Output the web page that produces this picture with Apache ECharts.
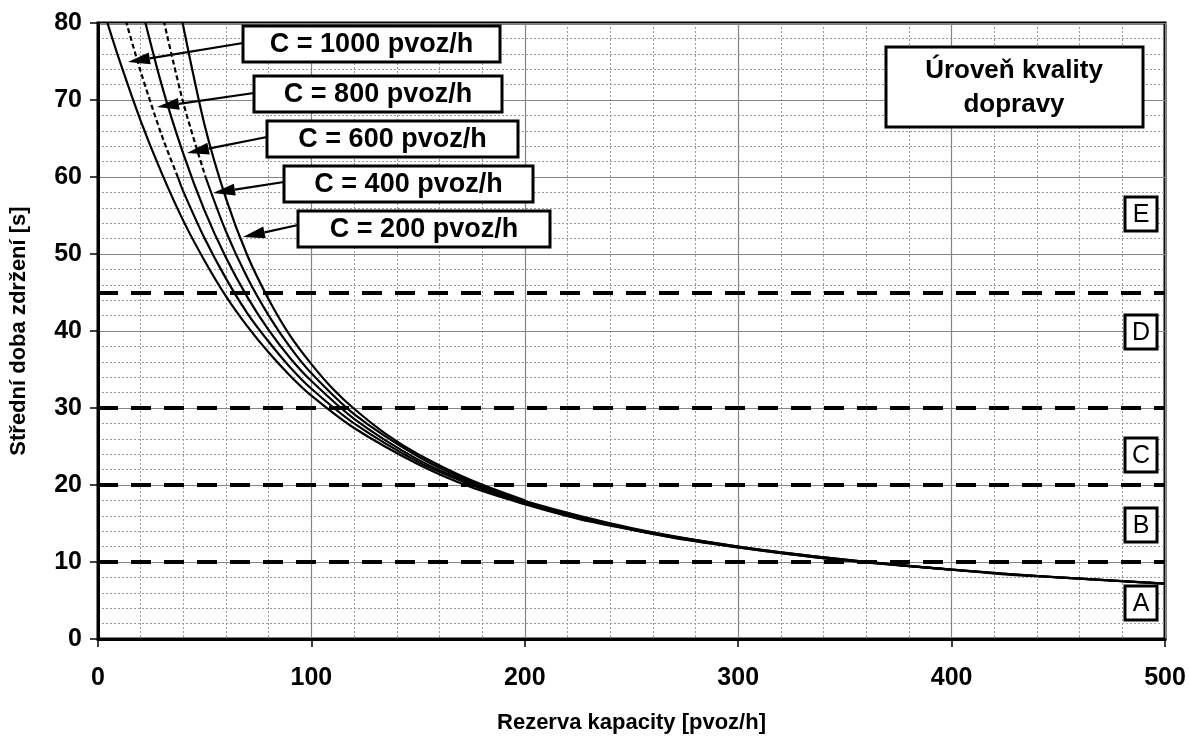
<!DOCTYPE html>
<html><head><meta charset="utf-8">
<script src="https://cdn.jsdelivr.net/npm/echarts@6/dist/echarts.min.js"></script>
<style>html,body{margin:0;padding:0;background:#fff}#c{width:1189px;height:738px}</style>
</head><body><div id="c"></div>
<script>
// ---- data ----
const xTicks = [0, 100, 200, 300, 400, 500];
const yTicks = [0, 10, 20, 30, 40, 50, 60, 70, 80];
const capLabels = ['C = 1000 pvoz/h', 'C = 800 pvoz/h', 'C = 600 pvoz/h', 'C = 400 pvoz/h', 'C = 200 pvoz/h'];
const c1000 = [[4,80.4],[10,75.2],[20,67.3],[30,60.4],[40,54.3],[50,49.1],[60,44.5],[70,40.6],[80,37.2],[90,34.2],[100,31.6],[120,27.4],[150,22.7],[175,19.7],[200,17.5],[225,15.6],[250,14.2],[275,12.9],[300,11.9],[325,11.0],[350,10.2],[375,9.6],[400,9.0],[425,8.4],[450,8.0],[475,7.6],[500,7.2]];
const c800 = [[12,81.3],[20,73.7],[30,65.3],[37.4,60],[40,58.1],[50,52.0],[60,46.8],[70,42.3],[80,38.6],[90,35.3],[100,32.5],[120,28.0],[150,23.0],[175,20.0],[200,17.6],[250,14.2],[300,11.9],[350,10.2],[400,9.0],[450,8.0],[500,7.2]];
const c600 = [[20,82.5],[30,71.8],[40,63.0],[50,55.6],[60,49.5],[70,44.4],[80,40.1],[90,36.5],[100,33.5],[120,28.6],[150,23.3],[175,20.2],[200,17.8],[250,14.3],[300,12.0],[350,10.3],[400,9.0],[450,8.0],[500,7.2]];
const c400 = [[30,81.3],[40,69.6],[50.4,60],[60,52.9],[70,46.9],[80,42.0],[90,37.9],[100,34.5],[120,29.2],[150,23.7],[175,20.4],[200,17.9],[250,14.4],[300,12.0],[350,10.3],[400,9.0]];
const c200 = [[38,82.6],[40,79.5],[50,66.7],[60,57.2],[70,49.8],[80,44.1],[90,39.4],[100,35.7],[110,32.5],[120,29.9],[135,26.6],[150,24.0],[175,20.6],[200,18.0]];
const losBounds = [10, 20, 30, 45];
const losLetters = ['A', 'B', 'C', 'D', 'E'];
const legendTitle = ['Úroveň kvality', 'dopravy'];

// ---- chart ----
const FONT = "'Liberation Sans', Arial, sans-serif";
const chart = echarts.init(document.getElementById('c'), null, {renderer: 'canvas'});

function curve(data, dashed) {
  return {
    type: 'line', data: data, showSymbol: false, symbol: 'none', smooth: 0.3,
    lineStyle: {color: '#000', width: 2.2, type: dashed ? [5, 3] : 'solid'},
    silent: true, z: 5
  };
}
const hi = a => a.filter(p => p[1] >= 60);
const lo = a => a.filter(p => p[1] <= 60);

const s1000 = curve(c1000, false);
s1000.markLine = {
  silent: true, symbol: 'none', label: {show: false},
  lineStyle: {color: '#000', width: 4, type: [20, 13]},
  data: losBounds.map(v => ({yAxis: v}))
};

const xMin = xTicks[0], xMax = xTicks[xTicks.length - 1];
const yMin = yTicks[0], yMax = yTicks[yTicks.length - 1];
const minorAxis = (min, max, interval) => ({
  type: 'value', min: min, max: max, interval: interval, z: 0,
  axisLine: {show: false}, axisTick: {show: false}, axisLabel: {show: false},
  splitLine: {show: true, lineStyle: {color: '#9a9a9a', width: 1, type: [2, 2]}}
});

chart.setOption({
  animation: false,
  backgroundColor: '#fff',
  grid: {left: 98, right: 24, top: 23, bottom: 99, containLabel: false, outerBoundsMode: 'none',
         show: true, borderColor: '#000', borderWidth: 3, backgroundColor: 'transparent'},
  xAxis: [{
    type: 'value', min: xMin, max: xMax, interval: 100, z: 2,
    name: 'Rezerva kapacity [pvoz/h]', nameLocation: 'middle', nameGap: 73,
    nameTextStyle: {fontFamily: FONT, fontWeight: 'bold', fontSize: 22, color: '#000'},
    axisLine: {show: true, lineStyle: {color: '#000', width: 3}},
    axisTick: {show: true, inside: false, length: 8, lineStyle: {color: '#000', width: 1.5}},
    axisLabel: {fontFamily: FONT, fontWeight: 'bold', fontSize: 25, color: '#000', margin: 27},
    splitLine: {show: true, lineStyle: {color: '#858585', width: 1.2}}
  }, Object.assign(minorAxis(xMin, xMax, 20), {position: 'bottom'})],
  yAxis: [{
    type: 'value', min: yMin, max: yMax, interval: 10, z: 2,
    name: 'Střední doba zdržení [s]', nameLocation: 'middle', nameGap: 68, nameRotate: 90,
    nameTextStyle: {fontFamily: FONT, fontWeight: 'bold', fontSize: 22, color: '#000'},
    axisLine: {show: true, lineStyle: {color: '#000', width: 3}},
    axisTick: {show: true, inside: false, length: 8, lineStyle: {color: '#000', width: 1.5}},
    axisLabel: {fontFamily: FONT, fontWeight: 'bold', fontSize: 25, color: '#000', margin: 16},
    splitLine: {show: true, lineStyle: {color: '#858585', width: 1.2}}
  }, Object.assign(minorAxis(yMin, yMax, 2), {position: 'left'})],
  series: [
    s1000,
    curve(hi(c800), true), curve(lo(c800), false),
    curve(c600, false),
    curve(hi(c400), true), curve(lo(c400), false),
    curve(c200, false)
  ]
});

// ---- annotations (pixel layout) ----
const g = [];
const boxes = [
  {x: 243, y: 26, w: 257, h: 36},
  {x: 254, y: 76, w: 248, h: 36},
  {x: 267, y: 121, w: 251, h: 36},
  {x: 284, y: 166, w: 249, h: 36},
  {x: 298, y: 211, w: 252, h: 36}
];
const arrows = [
  [[243, 43], [128, 62]],
  [[254, 93], [157, 107]],
  [[267, 137], [187, 153]],
  [[284, 182], [213, 193]],
  [[298, 225], [243, 237]]
];
arrows.forEach(a => {
  const [s, t] = a;
  const dx = t[0] - s[0], dy = t[1] - s[1];
  const L = Math.hypot(dx, dy), ux = dx / L, uy = dy / L;
  const hl = 22, hw = 6;
  const bx = t[0] - ux * hl, by = t[1] - uy * hl;
  g.push({type: 'line', shape: {x1: s[0], y1: s[1], x2: bx, y2: by}, style: {stroke: '#000', lineWidth: 2.2}, z: 20});
  g.push({type: 'polygon', shape: {points: [[t[0], t[1]], [bx - uy * hw, by + ux * hw], [bx + uy * hw, by - ux * hw]]}, style: {fill: '#000'}, z: 20});
});
boxes.forEach((b, i) => {
  g.push({type: 'rect', shape: {x: b.x, y: b.y, width: b.w, height: b.h}, style: {fill: '#fff', stroke: '#000', lineWidth: 3}, z: 21});
  g.push({type: 'text', style: {text: capLabels[i], x: b.x + b.w / 2, y: b.y + b.h / 2 + 1, align: 'center', verticalAlign: 'middle', fontFamily: FONT, fontWeight: 'bold', fontSize: 27, fill: '#000'}, z: 22});
});
// title box
g.push({type: 'rect', shape: {x: 886, y: 47, width: 257, height: 80}, style: {fill: '#fff', stroke: '#000', lineWidth: 3}, z: 21});
g.push({type: 'text', style: {text: legendTitle[0], x: 1014, y: 71, align: 'center', verticalAlign: 'middle', fontFamily: FONT, fontWeight: 'bold', fontSize: 26, fill: '#000'}, z: 22});
g.push({type: 'text', style: {text: legendTitle[1], x: 1014, y: 105, align: 'center', verticalAlign: 'middle', fontFamily: FONT, fontWeight: 'bold', fontSize: 26, fill: '#000'}, z: 22});
// level-of-service letters
const letterY = [603, 525, 455, 332, 214];
losLetters.forEach((L, i) => {
  g.push({type: 'rect', shape: {x: 1125, y: letterY[i] - 17, width: 32, height: 34}, style: {fill: '#fff', stroke: '#000', lineWidth: 3}, z: 21});
  g.push({type: 'text', style: {text: L, x: 1141, y: letterY[i] + 1, align: 'center', verticalAlign: 'middle', fontFamily: FONT, fontSize: 25, fill: '#000'}, z: 22});
});
chart.setOption({graphic: g});
</script></body></html>
